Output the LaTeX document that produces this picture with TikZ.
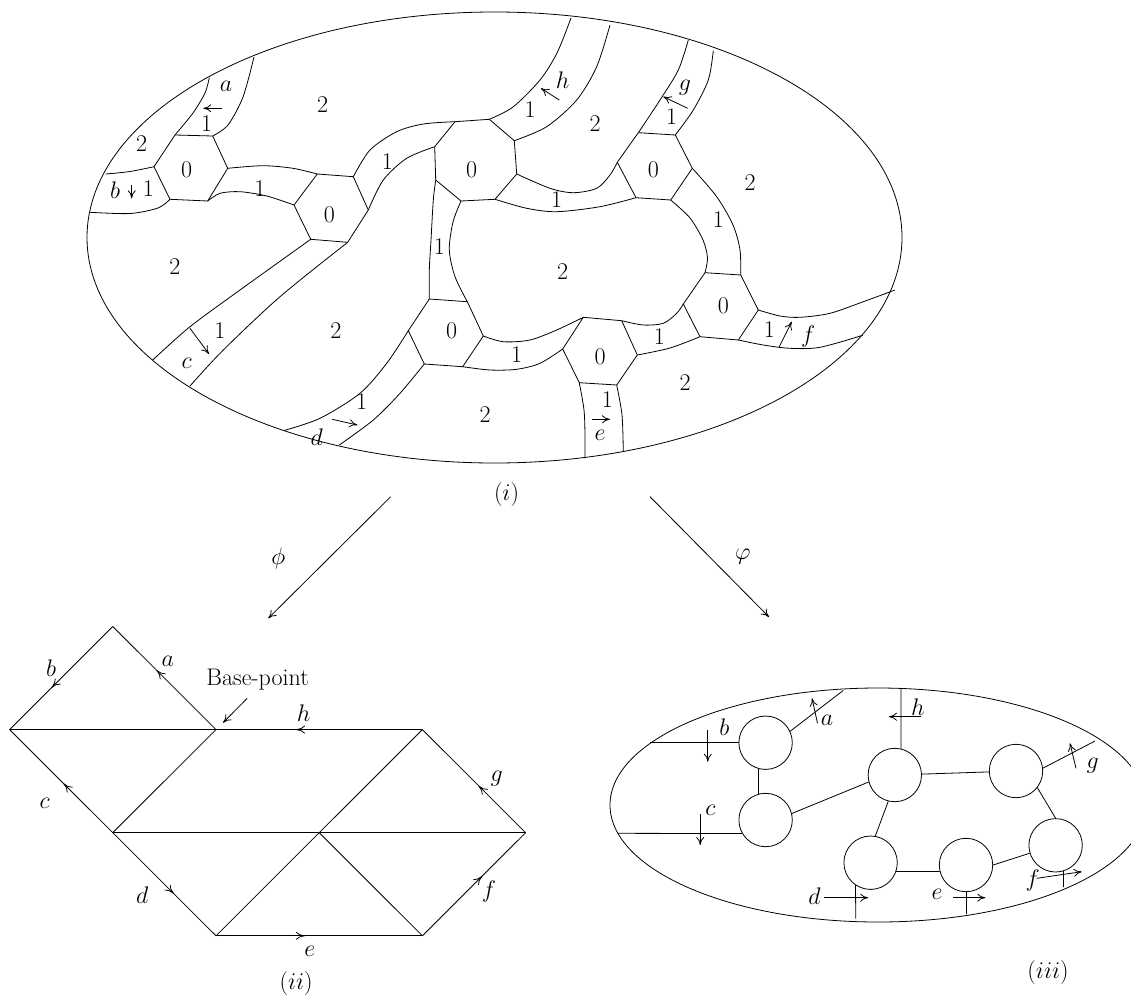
\RequirePackage{fix-cm}
\documentclass[tikz,border=0pt]{standalone}
\usetikzlibrary{arrows.meta,decorations.markings}
\tikzset{
  ln/.style={line width=0.8pt},
  arr/.style={line width=0.8pt,-{To[length=8pt,width=8pt]}},
  lab/.style={font=\fontsize{24}{29}\selectfont, inner sep=0pt},
  midarr/.style={postaction={decorate},decoration={markings,mark=at position #1 with {\arrow{To[length=9pt,width=8pt]}}}},
  blob/.style={circle,draw,line width=0.8pt,minimum size=53.4pt,inner sep=0pt},
}
\begin{document}
\begin{tikzpicture}[x=1pt,y=-1pt]
\useasboundingbox (0,0) rectangle (1131,1001);

% ===================== (i) =====================
\draw[ln] (494.5,237.5) ellipse [x radius=407.5, y radius=225.5];

% hexagons
\draw[ln] (175,135) -- (212.7,136) -- (227.7,168.3) -- (207.7,201) -- (170,199.3) -- (154,166.7) -- cycle;
\draw[ln] (317.3,174) -- (353.3,176.7) -- (368.3,210) -- (347.7,242.3) -- (310.7,239.3) -- (294,205) -- cycle;
\draw[ln] (455,121.7) -- (489.3,119.3) -- (514.3,140.7) -- (516.7,174) -- (495,199.3) -- (461,201) -- (435.7,180) -- (434.7,146.7) -- cycle;
\draw[ln] (638.3,132.7) -- (675.3,135) -- (692.3,168.3) -- (670.7,200) -- (636,197.7) -- (617.3,162.3) -- cycle;
\draw[ln] (429.3,299) -- (467.3,301.7) -- (483.3,336) -- (462.7,366.7) -- (424.3,364) -- (408.3,330.7) -- cycle;
\draw[ln] (583.3,317.3) -- (621.7,320.7) -- (637.3,355) -- (616.7,385) -- (579.3,382.7) -- (562.7,349) -- cycle;
\draw[ln] (705,272.7) -- (740.7,275) -- (758.3,310) -- (738.3,340) -- (700,336.7) -- (683.3,304) -- cycle;

% strips
\draw[ln] plot[smooth] coordinates {(175,135) (193,113) (205,93) (209.3,77.7)};
\draw[ln] plot[smooth] coordinates {(212.7,136) (228,125) (243,97) (254,57)};
\draw[ln] plot[smooth] coordinates {(154,166.7) (130,171.5) (106,174)};
\draw[ln] plot[smooth] coordinates {(170,199.3) (158,208) (130,213.5) (90,212.3)};
\draw[ln] plot[smooth] coordinates {(227.7,168.3) (263,165.7) (293,168.3) (317.3,174)};
\draw[ln] plot[smooth] coordinates {(207.7,201) (220,193.3) (240,191.7) (266.7,196) (294,205)};
\draw[ln] plot[smooth] coordinates {(310.7,239.3) (240,290) (190,326.7) (152.7,360)};
\draw[ln] plot[smooth] coordinates {(347.7,242.3) (280,296.7) (223.3,350) (190,386)};
\draw[ln] plot[smooth] coordinates {(353.3,176.7) (370,150) (396.7,131.7) (423.3,124) (455,121.7)};
\draw[ln] plot[smooth] coordinates {(368.3,210) (383.3,180) (406.7,158.3) (434.7,146.7)};
\draw[ln] plot[smooth] coordinates {(489.3,119.3) (513,107) (540,80) (557,53) (571,18)};
\draw[ln] plot[smooth] coordinates {(514.3,140.7) (546.7,126.7) (576.7,100) (596.7,66.7) (610,25)};
\draw[ln] plot[smooth] coordinates {(516.7,174) (550,188.3) (573.3,192.7) (596.7,188.3) (610,175) (617.3,162.3)};
\draw[ln] plot[smooth] coordinates {(495,199.3) (526.7,208.3) (556.7,211.7) (600,206.7) (636,197.7)};
\draw[ln] plot[smooth] coordinates {(638.3,132.7) (660,100) (678.3,70) (688.3,40)};
\draw[ln] plot[smooth] coordinates {(675.3,135) (693.3,110) (708.3,80) (713.3,50.7)};
\draw[ln] plot[smooth] coordinates {(692.3,168.3) (716.7,196.7) (733,225) (740,250) (740.7,275)};
\draw[ln] plot[smooth] coordinates {(670.7,200) (690,218) (703,240) (707.5,258) (705,272.7)};
\draw[ln] plot[smooth] coordinates {(758.3,310) (780,316) (800,317.3) (830,313.3) (863.3,301.7) (895,290)};
\draw[ln] plot[smooth] coordinates {(738.3,340) (763.3,345) (790,348.3) (820,347.3) (862.7,335.3)};
\draw[ln] plot[smooth] coordinates {(683.3,304) (676.7,313.3) (663.3,323.3) (643.3,325) (621.7,320.7)};
\draw[ln] plot[smooth] coordinates {(700,336.7) (670,348) (637.3,355)};
\draw[ln] plot[smooth] coordinates {(579.3,382.7) (584,410) (585,435) (585,458.3)};
\draw[ln] plot[smooth] coordinates {(616.7,385) (622,415) (623.3,451.7)};
\draw[ln] plot[smooth] coordinates {(583.3,317.3) (556.7,330) (530,340) (503.3,341.7) (483.3,336)};
\draw[ln] plot[smooth] coordinates {(562.7,349) (540,363.3) (516.7,369.3) (490,370) (462.7,366.7)};
\draw[ln] plot[smooth] coordinates {(435.7,180) (433.3,200) (431,240) (429.3,270) (429.3,299)};
\draw[ln] plot[smooth] coordinates {(461,201) (453,222) (449.3,250) (455,276.7) (467.3,301.7)};
\draw[ln] plot[smooth] coordinates {(408.3,330.7) (386.7,363.3) (360,393.3) (320,418.3) (283.3,430.7)};
\draw[ln] plot[smooth] coordinates {(424.3,364) (400,393.3) (373.3,420) (339.3,445)};

% labels in (i)
\foreach \x/\y [count=\i] in {186.7/170, 329.3/215, 471.7/170, 653.3/170, 451.7/331, 600/356.7, 723.3/306}
  \node[lab] (zero\i) at (\x,\y) {0};
\foreach \x/\y [count=\i] in {206.7/123.3, 148.3/188.3, 260/188.3, 220/330.7, 387.3/162, 530/110, 556.7/200, 671.7/116.7, 718.3/220, 439.3/246.7, 361.7/401.7, 516.7/355, 607.3/400, 659.3/336.7, 769.3/330}
  \node[lab] (one\i) at (\x,\y) {1};
\foreach \x/\y [count=\i] in {141.7/143.3, 322.7/105, 595/123.3, 750/182.7, 175/266.7, 336/330.7, 562.7/271.7, 485/415, 685/383}
  \node[lab] (two\i) at (\x,\y) {2};
\foreach \x/\y/\t in {226/86/a, 115/190/b, 186.7/363.3/c, 316.7/436.7/d, 600/435/e, 808.3/336/f, 685/87.3/g, 562.7/80/h}
  \node[lab] (top\t) at (\x,\y) {$\t$};

% small arrows in (i)
\draw[arr] (221.7,108.3) -- (203.3,108.3);
\draw[arr] (131.7,185) -- (131.7,198.3);
\draw[arr] (190,328.3) -- (209,354);
\draw[arr] (332.3,419.3) -- (357.3,425);
\draw[arr] (591.7,419.3) -- (610,419.3);
\draw[arr] (779,347.3) -- (791.7,321.7);
\draw[arr] (687.7,108.3) -- (663.3,96.7);
\draw[arr] (559.3,100) -- (541,88.3);

\node[lab] (capi) at (506.5,494) {$(i)$};

% maps
\coordinate (phiA) at (390.7,496.7);
\coordinate (phiB) at (268.3,618.3);
\coordinate (vphA) at (650,496.7);
\coordinate (vphB) at (769,617);
\draw[arr] (phiA) -- (phiB);
\draw[arr] (vphA) -- (vphB);
\node[lab] (philab) at (278.3,558.3) {$\phi$};
\node[lab] (vphlab) at (742.8,556.7) {$\varphi$};

% ===================== (ii) =====================
\coordinate (T) at (112.8,626.5);
\coordinate (L) at (9.6,729.6);
\coordinate (BP) at (216,729.6);
\coordinate (R1) at (422.4,729.6);
\coordinate (M1) at (112.8,832.7);
\coordinate (M2) at (319.2,832.7);
\coordinate (R2) at (525.6,832.7);
\coordinate (B1) at (216,935.8);
\coordinate (B2) at (422.4,935.8);

\draw[ln,midarr=0.592] (T) -- (L);
\draw[ln,midarr=0.575] (BP) -- (T);
\draw[ln] (L) -- (BP);
\draw[ln,midarr=0.612] (R1) -- (BP);
\draw[ln,midarr=0.476] (M1) -- (L);
\draw[ln] (BP) -- (M1);
\draw[ln] (R1) -- (M2);
\draw[ln,midarr=0.454] (R2) -- (R1);
\draw[ln] (M1) -- (R2);
\draw[ln,midarr=0.59] (M1) -- (B1);
\draw[ln] (M2) -- (B1);
\draw[ln] (M2) -- (B2);
\draw[ln,midarr=0.43] (B1) -- (B2);
\draw[ln,midarr=0.578] (B2) -- (R2);

\node[lab] (bpl) at (257.6,680) {Base-point};
\coordinate (bpA) at (247.2,698.3);
\coordinate (bpB) at (223.1,722.7);
\draw[arr] (bpA) -- (bpB);

\foreach \x/\y/\t in {51/668.3/b, 167.7/661.7/a, 303.7/713.3/h, 44.8/803.3/c, 496.6/778.3/g, 142.2/895/d, 489/891.7/f, 309.9/951.7/e}
  \node[lab] (tri\t) at (\x,\y) {$\t$};
\node[lab] (capii) at (296.1,983.3) {$(ii)$};

% ===================== (iii) =====================
\draw[ln] (878,805) ellipse [x radius=268, y radius=117];

\node[blob] (C1) at (765.6,742.7) {};
\node[blob] (C2) at (765.6,820) {};
\node[blob] (C3) at (894.8,775) {};
\node[blob] (C4) at (1016,771) {};
\node[blob] (C5) at (870.6,862.7) {};
\node[blob] (C6) at (966,865) {};
\node[blob] (C7) at (1055.6,845.3) {};

\draw[ln] (C1.-105) -- (C2.105);
\draw[ln] (C2.14) -- (C3.-165);
\draw[ln] (C3) -- (C4);
\draw[ln] (C3.-104) -- (C5.80);
\draw[ln] (C5.-19) -- (C6.-166);
\draw[ln] (C6.0) -- (C7.-163);
\draw[ln] (C4.-38) -- (C7.90);

\coordinate (aE) at (843.2,690.5);
\coordinate (bE) at (650,742.7);
\coordinate (cE) at (617.5,833.3);
\coordinate (hE) at (900.9,689);
\coordinate (gE) at (1095,741);
\coordinate (dE) at (855.8,918.5);
\coordinate (eE) at (966,914);
\coordinate (fE) at (1063.5,887);

\draw[ln] (C1.25) -- (aE);
\draw[ln] (C1.west) -- (bE);
\draw[ln] (C2.-150) -- (cE);
\draw[ln] (C3.77) -- (hE);
\draw[ln] (C4.6) -- (gE);
\draw[ln] (C5.-124) -- (dE);
\draw[ln] (C6.south) -- (eE);
\draw[ln] (C7.-73) -- (fE);

\draw[arr] (707.8,730) -- (707.8,761.7);
\draw[arr] (817.5,723.3) -- (812,698.3);
\draw[arr] (700.2,814) -- (700.2,845);
\draw[arr] (921.3,716.7) -- (888.9,716.7);
\draw[arr] (1076,768.3) -- (1070,743.3);
\draw[arr] (824.2,897.7) -- (868.2,897.7);
\draw[arr] (953.3,897.7) -- (985.3,897.7);
\draw[arr] (1036.7,878.3) -- (1081.7,871.7);

\foreach \x/\y/\t in {724.3/726.7/b, 827/720/a, 710.5/810/c, 917.8/707.3/h, 1092.7/766/g, 814.5/896/d, 937.1/894.3/e, 1032.7/880/f}
  \node[lab] (gr\t) at (\x,\y) {$\t$};
\node[lab] (capiii) at (1048,972) {$(iii)$};
\end{tikzpicture}
\end{document}
